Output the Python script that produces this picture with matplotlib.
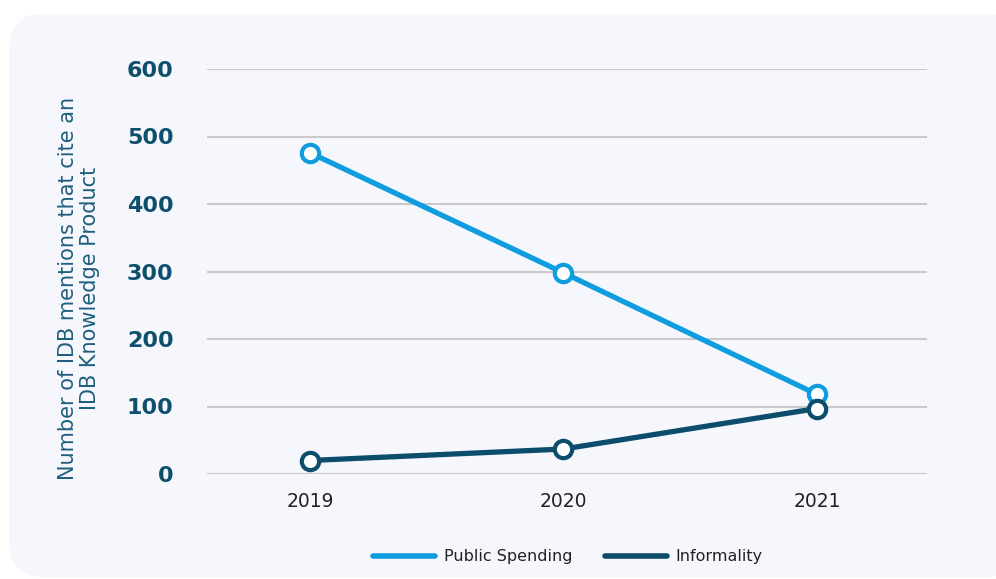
import matplotlib
matplotlib.use("Agg")
import matplotlib.pyplot as plt
from matplotlib.patches import FancyBboxPatch
from matplotlib.lines import Line2D

years = ["2019", "2020", "2021"]
public_spending = [476, 298, 118]
informality = [20, 37, 97]
y_ticks = [0, 100, 200, 300, 400, 500, 600]

C_PUBLIC = "#109ddf"
C_INFORMAL = "#0b4d6b"
C_TICK = "#0d4f6c"
C_LABEL = "#1f5f7c"
C_GRID = "#c9c9c9"
C_PANEL = "#f6f7fc"

plt.rcParams["font.family"] = ["DejaVu Sans"]

fig = plt.figure(figsize=(9.96, 5.79), dpi=100)
fig.patch.set_facecolor("white")

# rounded card behind the chart
card = FancyBboxPatch((9 / 996, 2 / 579), (1020 - 9) / 996, (565 - 2) / 579,
                      boxstyle="round,pad=0,rounding_size=0.035",
                      transform=fig.transFigure, facecolor=C_PANEL,
                      edgecolor="none", zorder=-10, mutation_aspect=996 / 579)
fig.patches.append(card)

ax = fig.add_axes([207 / 996, (579 - 474) / 579, 720 / 996, 405 / 579])
ax.set_zorder(2)
ax.set_facecolor("none")

x = list(range(len(years)))
ax.plot(x, public_spending, color=C_PUBLIC, lw=3.8, solid_capstyle="round",
        marker="o", ms=12.5, mfc="white", mec=C_PUBLIC, mew=3, zorder=3)
ax.plot(x, informality, color=C_INFORMAL, lw=3.8, solid_capstyle="round",
        marker="o", ms=12.5, mfc="white", mec=C_INFORMAL, mew=3, zorder=4)

ax.set_xlim(-0.406, 2.434)
ax.set_ylim(0, 600)
ax.set_yticks(y_ticks)
ax.set_yticklabels([str(t) for t in y_ticks], fontsize=16, fontweight="bold",
                   color=C_TICK)
ax.set_xticks(x)
ax.set_xticklabels(years, fontsize=13.5, color="#222222")
ax.tick_params(axis="both", length=0)
ax.tick_params(axis="y", pad=24)
ax.tick_params(axis="x", pad=13)
ax.grid(axis="y", color=C_GRID, lw=1.5)
ax.set_axisbelow(True)
for s in ax.spines.values():
    s.set_visible(False)

ax.set_ylabel("Number of IDB mentions that cite an\nIDB Knowledge Product",
              fontsize=15, color=C_LABEL, linespacing=1.1)
ax.yaxis.set_label_coords(-0.149, 0.459)

handles = [Line2D([], [], color=C_PUBLIC, lw=4, solid_capstyle="round"),
           Line2D([], [], color=C_INFORMAL, lw=4, solid_capstyle="round")]
fig.legend(handles, ["Public Spending", "Informality"], loc="center",
           bbox_to_anchor=(568 / 996, 1 - 557 / 579), ncol=2, frameon=False,
           fontsize=11.5, handlelength=3.9, columnspacing=2.0, handletextpad=0.55,
           labelcolor="#222222")

fig.savefig("out.png", dpi=100, facecolor="white")
